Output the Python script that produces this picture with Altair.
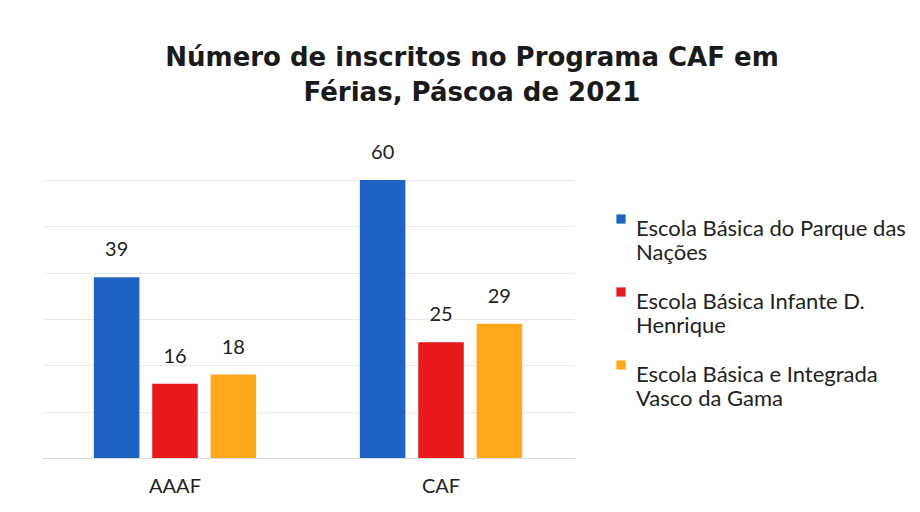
import altair as alt
import pandas as pd

groups = ["AAAF", "CAF"]
schools = [
    "Escola Básica do Parque das\nNações",
    "Escola Básica Infante D.\nHenrique",
    "Escola Básica e Integrada\nVasco da Gama",
]
values_aaaf = [39, 16, 18]
values_caf = [60, 25, 29]
colors = ["#1f63c2", "#e8191c", "#ffa81c"]

rows = []
for g, vals in zip(groups, [values_aaaf, values_caf]):
    for s, v in zip(schools, vals):
        rows.append({"grupo": g, "escola": s, "valor": v})
df = pd.DataFrame(rows)

FONT = "Lato"

x = alt.X("grupo:N", sort=groups, title=None,
          scale=alt.Scale(paddingInner=0.39, paddingOuter=0.195),
          axis=alt.Axis(labelAngle=0, labelFontSize=20, labelColor="#222222",
                        labelFont=FONT, ticks=False, domain=True, grid=False,
                        domainColor="#d9d9d9", labelPadding=18))
xo = alt.XOffset("escola:N", sort=schools,
                 scale=alt.Scale(paddingInner=0.22, paddingOuter=0))
y = alt.Y("valor:Q", title=None, scale=alt.Scale(domain=[0, 60]),
          axis=alt.Axis(values=[0, 10, 20, 30, 40, 50, 60], labels=False,
                        ticks=False, domain=False, gridColor="#e9e9e9",
                        gridWidth=1))
color = alt.Color("escola:N", sort=schools,
                  scale=alt.Scale(domain=schools, range=colors),
                  legend=alt.Legend(title=None, orient="none", legendX=568,
                                    legendY=28, symbolType="square",
                                    symbolSize=85, labelFontSize=22,
                                    labelFont=FONT, labelColor="#222222",
                                    labelLimit=400, rowPadding=17,
                                    labelExpr="split(datum.label, '\\n')",
                                    labelBaseline="top", labelOffset=4))

base = alt.Chart(df).encode(x=x, xOffset=xo, y=y)
bars = base.mark_bar().encode(color=color)
text = base.mark_text(baseline="bottom", dy=-17, fontSize=20, font=FONT,
                      color="#222222").encode(text="valor:Q")

chart = (bars + text).properties(
    width=532, height=278,
    background="white",
    title=alt.TitleParams(
        text=["Número de inscritos no Programa CAF em", "Férias, Páscoa de 2021"],
        fontSize=26, font="DejaVu Sans", fontWeight="bold", color="#1a1a1a",
        anchor="middle", dx=164, offset=37, lineHeight=35),
    autosize=alt.AutoSizeParams(type="none"),
    padding={"left": 34, "top": 172, "right": 338, "bottom": 46},
).configure_view(stroke="transparent", strokeWidth=0)

chart.save("out.html", embed_options={"renderer": "svg", "actions": False})
